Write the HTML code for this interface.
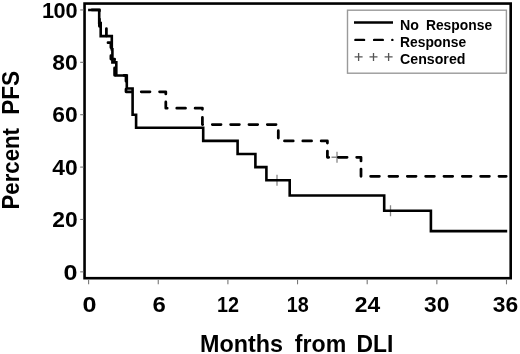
<!DOCTYPE html>
<html><head><meta charset="utf-8"><style>
html,body{margin:0;padding:0;background:#fff;}
svg{display:block;filter:blur(0.4px);}
.tk{stroke:#777;stroke-width:1.1;}
.tl{font-family:"Liberation Sans",Arial,sans-serif;font-weight:bold;font-size:22px;fill:#000;}
.lg{font-family:"Liberation Sans",Arial,sans-serif;font-weight:bold;font-size:14.2px;fill:#000;}
.ax{font-family:"Liberation Sans",Arial,sans-serif;font-weight:bold;font-size:23.2px;fill:#000;}
.cs{stroke:#555;stroke-width:1.3;fill:none;}
.cs2{stroke:#888;stroke-width:1.3;fill:none;}
</style></head><body>
<svg width="520" height="354" viewBox="0 0 520 354">
<rect x="84.55" y="3.55" width="426.15" height="274.65" fill="none" stroke="#000" stroke-width="2.6"/>
<line x1="80.2" y1="9.95" x2="83.5" y2="9.95" class="tk"/>
<text x="77.6" y="17.65" class="tl" text-anchor="end" textLength="35.5" lengthAdjust="spacingAndGlyphs">1<tspan dx="-0.8">00</tspan></text>
<line x1="80.2" y1="62.33" x2="83.5" y2="62.33" class="tk"/>
<text x="77.6" y="70.03" class="tl" text-anchor="end" textLength="25.4" lengthAdjust="spacingAndGlyphs">80</text>
<line x1="80.2" y1="114.71" x2="83.5" y2="114.71" class="tk"/>
<text x="77.6" y="122.41" class="tl" text-anchor="end" textLength="25.4" lengthAdjust="spacingAndGlyphs">60</text>
<line x1="80.2" y1="167.09" x2="83.5" y2="167.09" class="tk"/>
<text x="77.6" y="174.79" class="tl" text-anchor="end" textLength="25.4" lengthAdjust="spacingAndGlyphs">40</text>
<line x1="80.2" y1="219.47" x2="83.5" y2="219.47" class="tk"/>
<text x="77.6" y="227.17" class="tl" text-anchor="end" textLength="25.4" lengthAdjust="spacingAndGlyphs">20</text>
<line x1="80.2" y1="271.85" x2="83.5" y2="271.85" class="tk"/>
<text x="77.6" y="279.55" class="tl" text-anchor="end" textLength="14" lengthAdjust="spacingAndGlyphs">0</text>
<line x1="88.6" y1="279.5" x2="88.6" y2="284.3" class="tk"/>
<text x="89.5" y="312.4" class="tl" text-anchor="middle" textLength="14" lengthAdjust="spacingAndGlyphs">0</text>
<line x1="158.25" y1="279.5" x2="158.25" y2="284.3" class="tk"/>
<text x="159.15" y="312.4" class="tl" text-anchor="middle" textLength="13.3" lengthAdjust="spacingAndGlyphs">6</text>
<line x1="227.9" y1="279.5" x2="227.9" y2="284.3" class="tk"/>
<text x="227.9" y="312.4" class="tl" text-anchor="middle" textLength="22" lengthAdjust="spacingAndGlyphs">12</text>
<line x1="297.54" y1="279.5" x2="297.54" y2="284.3" class="tk"/>
<text x="297.84" y="312.4" class="tl" text-anchor="middle" textLength="22" lengthAdjust="spacingAndGlyphs">18</text>
<line x1="367.19" y1="279.5" x2="367.19" y2="284.3" class="tk"/>
<text x="367.49" y="312.4" class="tl" text-anchor="middle" textLength="25.4" lengthAdjust="spacingAndGlyphs">24</text>
<line x1="436.84" y1="279.5" x2="436.84" y2="284.3" class="tk"/>
<text x="436.84" y="312.4" class="tl" text-anchor="middle" textLength="25.4" lengthAdjust="spacingAndGlyphs">30</text>
<line x1="506.49" y1="279.5" x2="506.49" y2="284.3" class="tk"/>
<text x="505.49" y="312.4" class="tl" text-anchor="middle" textLength="25.4" lengthAdjust="spacingAndGlyphs">36</text>
<rect x="347.5" y="10.2" width="158.9" height="63" fill="#fff" stroke="#9a9a9a" stroke-width="1.4"/>
<line x1="354" y1="22.5" x2="393" y2="22.5" stroke="#000" stroke-width="2.6"/>
<path d="M355.4 39.9h8.7M374.1 39.9h8.7M392.3 39.9h0.1" stroke="#000" stroke-width="2.4" stroke-linecap="round" fill="none"/>
<path d="M354.6 56.9h8M358.6 52.9v8" class="cs"/>
<path d="M369.5 56.9h8M373.5 52.9v8" class="cs"/>
<path d="M384.6 56.9h8M388.6 52.9v8" class="cs"/>
<text x="400" y="29.8" class="lg">No <tspan x="425.9" textLength="66.2" lengthAdjust="spacingAndGlyphs">Response</tspan></text>
<text x="400" y="47" class="lg" textLength="66.2" lengthAdjust="spacingAndGlyphs">Response</text>
<text x="400" y="63.8" class="lg">Censored</text>
<path d="M271.5 180.19h11M277 174.69v11" class="cs2"/>
<path d="M385 210.74h11M390.5 205.24v11" class="cs2"/>
<path d="M331.5 157.27h11M337 151.77v11" class="cs2"/>
<path d="M91.94 9.95L99.4 9.95L99.4 11.04M99.4 19.09L99.4 26.32L99.55 26.32M106.4 28.62L106.4 35.97M107.99 42.69L110.9 42.69L110.9 47.6M110.9 55.65L110.9 59.06L114.6 59.06L114.6 59.9M114.6 67.95L114.6 75.3M124.04 75.43L126 75.43L126 81.13M126 89.19L126 91.79L131.65 91.79M141.23 91.79L149.98 91.79M159.57 91.79L165.8 91.79L165.8 93.91M165.8 101.96L165.8 108.16L167.17 108.16M176.76 108.16L185.51 108.16M195.09 108.16L202.4 108.16L202.4 109.37M202.4 117.43L202.4 124.53L202.7 124.53M212.28 124.53L221.03 124.53M230.62 124.53L239.37 124.53M248.95 124.53L257.7 124.53M267.29 124.53L276.04 124.53M278.3 130.69L278.3 138.04M284.48 140.9L293.23 140.9M302.81 140.9L311.56 140.9M321.15 140.9L327.4 140.9L327.4 143M327.4 151.06L327.4 157.27L328.76 157.27M338.34 157.27L347.09 157.27M356.68 157.27L361 157.27L361 160.99M361 169.04L361 176.37L361.04 176.37M370.62 176.37L379.37 176.37M388.96 176.37L397.71 176.37M407.29 176.37L416.04 176.37M425.63 176.37L434.38 176.37M443.96 176.37L452.71 176.37M462.3 176.37L471.05 176.37M480.63 176.37L489.38 176.37M498.97 176.37L506.2 176.37" fill="none" stroke="#000" stroke-width="2.75" stroke-linecap="round" stroke-linejoin="round"/>
<path d="M88.1 9.95H99.2V23.05H100.7V36.14H111.8V49.24H112.4V62.33H116.3V75.43H126.8V88.52H132.6V114.71H136.1V127.81H203.2V140.9H237.6V154H255.4V167.09H266.4V180.19H289.7V195.46H384.2V210.74H430.9V231.11H507.2" fill="none" stroke="#000" stroke-width="2.6" stroke-linejoin="miter"/>
<text x="200" y="351.9" class="ax" textLength="83" lengthAdjust="spacingAndGlyphs">Months</text>
<text x="294.8" y="351.9" class="ax" textLength="51.4" lengthAdjust="spacingAndGlyphs">from</text>
<text x="356.6" y="351.9" class="ax" textLength="36.8" lengthAdjust="spacingAndGlyphs">DLI</text>
<text transform="translate(19.3 209.5) rotate(-90)" class="ax" textLength="81.5" lengthAdjust="spacingAndGlyphs">Percent</text>
<text transform="translate(19.3 114.8) rotate(-90)" class="ax" textLength="44" lengthAdjust="spacingAndGlyphs">PFS</text>
</svg>
</body></html>
